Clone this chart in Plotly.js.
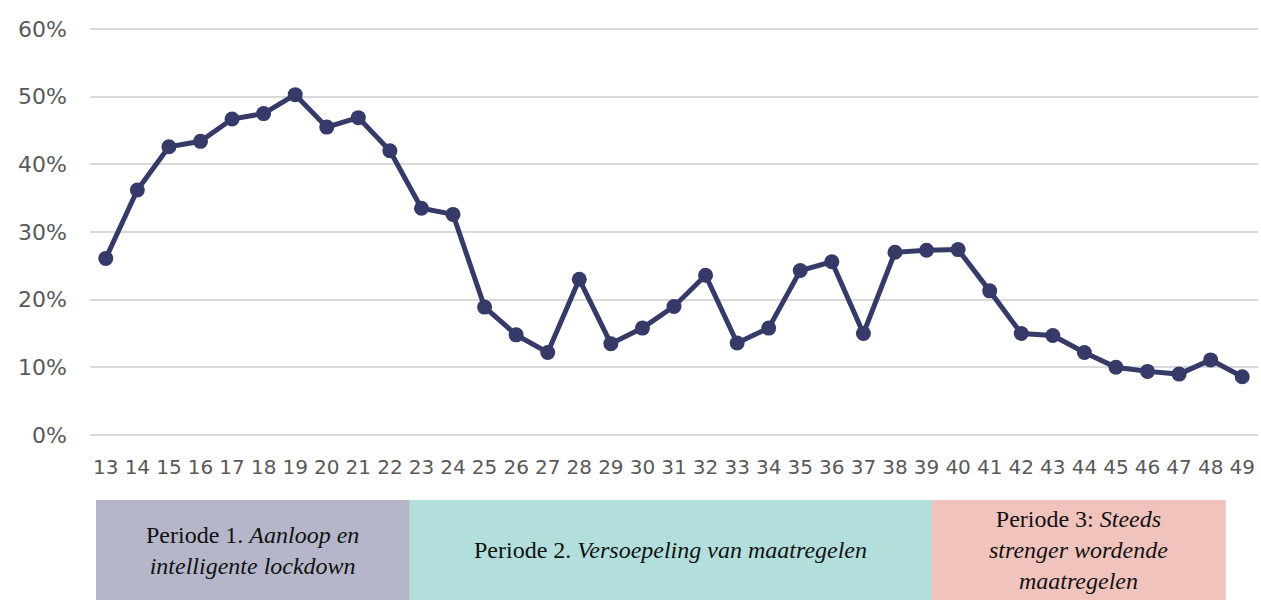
<!DOCTYPE html>
<html>
<head>
<meta charset="utf-8">
<script src="https://cdn.plot.ly/plotly-3.0.1.min.js"></script>
<style>html,body{margin:0;padding:0;background:#fff;}#chart{width:1261px;height:601px;}</style>
</head>
<body>
<div id="chart"></div>
<script>
const weeks = ["13","14","15","16","17","18","19","20","21","22","23","24","25","26","27","28","29","30","31","32","33","34","35","36","37","38","39","40","41","42","43","44","45","46","47","48","49"];
const shares = [0.261,0.362,0.426,0.434,0.467,0.475,0.503,0.455,0.469,0.420,0.335,0.326,0.189,0.148,0.122,0.230,0.135,0.158,0.190,0.236,0.136,0.158,0.243,0.256,0.150,0.270,0.273,0.274,0.213,0.150,0.147,0.122,0.100,0.094,0.090,0.111,0.086];
const yTicks = [0,0.1,0.2,0.3,0.4,0.5,0.6];
const yTickText = ["0%","10%","20%","30%","40%","50%","60%"];
const periodLabels = [
  "Periode 1. <i>Aanloop en</i><br><i>intelligente lockdown</i>",
  "Periode 2. <i>Versoepeling van maatregelen</i>",
  "Periode 3: <i>Steeds</i><br><i>strenger wordende</i><br><i>maatregelen</i>"
];
const periodColors = ["#b5b6c9","#b2dfdc","#f1c3bd"];

const boxes = [[-0.31,9.63],[9.63,26.17],[26.17,35.48]];
const shapes = boxes.map((b,i)=>({type:"rect",xref:"x",yref:"paper",x0:b[0],x1:b[1],y0:-0.402,y1:-0.157,fillcolor:periodColors[i],line:{width:0},layer:"above"}));
const annotations = boxes.map((b,i)=>({xref:"x",yref:"paper",x:(b[0]+b[1])/2,y:-0.2795,text:periodLabels[i],showarrow:false,xanchor:"center",yanchor:"middle",align:"center",font:{family:"Liberation Serif, DejaVu Serif, serif",size:24,color:"#111"}}));

Plotly.newPlot("chart",[{
  x: weeks, y: shares, type:"scatter", mode:"lines+markers",
  line:{color:"#363a68",width:5}, marker:{color:"#363a68",size:15}, cliponaxis:false
}],{
  width:1261,height:601,
  margin:{l:90,r:3,t:28,b:165},
  paper_bgcolor:"#fff",plot_bgcolor:"#fff",
  showlegend:false,
  xaxis:{type:"category",range:[-0.5,36.5],showgrid:false,zeroline:false,showline:false,
    tickfont:{family:"DejaVu Sans, sans-serif",size:20,color:"#595959"},ticklabelstandoff:17,tickangle:0},
  yaxis:{range:[-0.0015,0.6015],tickvals:yTicks,ticktext:yTickText,showgrid:true,gridcolor:"#d9d9d9",gridwidth:2,zeroline:false,
    tickfont:{family:"DejaVu Sans, sans-serif",size:22,color:"#595959"},ticklabelstandoff:22},
  shapes:shapes, annotations:annotations
},{staticPlot:true});
</script>
</body>
</html>
